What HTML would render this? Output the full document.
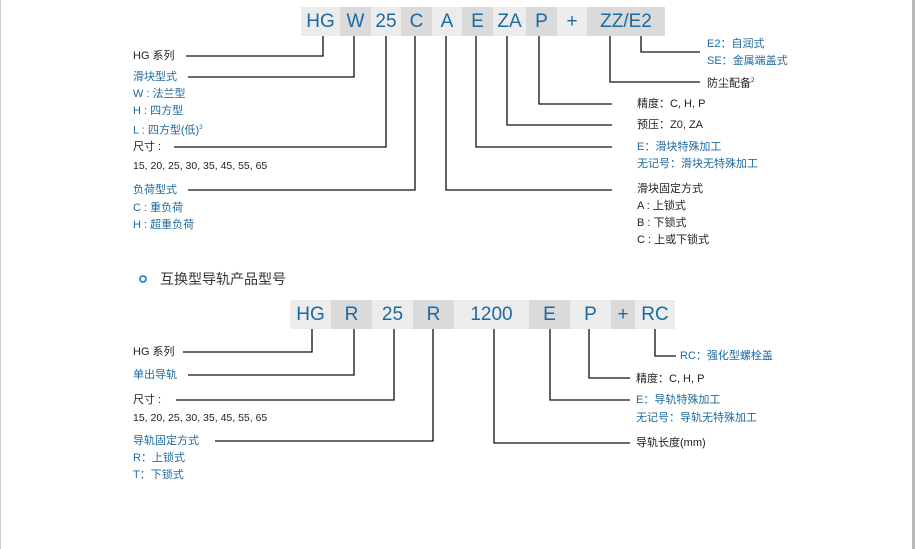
<!DOCTYPE html>
<html><head><meta charset="utf-8"><style>
body{margin:0;width:915px;height:549px;background:#fff;position:relative;overflow:hidden;font-family:"Liberation Sans","Noto Sans CJK SC",sans-serif}
.t{position:absolute;font-size:11px;line-height:13px;white-space:nowrap;color:#222}
.b{color:#1e6a9e}
.bx{position:absolute;height:29px;line-height:29px;text-align:center;color:#1a6aa0;font-size:19px}
.l{background:#ececec}.d{background:#dadada}
svg{position:absolute;left:0;top:0}
</style></head><body>
<div style="position:absolute;left:0;top:0;width:1px;height:549px;background:#ccc"></div>
<div style="position:absolute;left:912px;top:0;width:3px;height:549px;background:#b8b8b8"></div>

<div class="bx l" style="left:301px;top:7px;width:39px">HG</div>
<div class="bx d" style="left:340px;top:7px;width:31px">W</div>
<div class="bx l" style="left:371px;top:7px;width:30px">25</div>
<div class="bx d" style="left:401px;top:7px;width:31px">C</div>
<div class="bx l" style="left:432px;top:7px;width:30px">A</div>
<div class="bx d" style="left:462px;top:7px;width:31px">E</div>
<div class="bx l" style="left:493px;top:7px;width:33px">ZA</div>
<div class="bx d" style="left:526px;top:7px;width:31px">P</div>
<div class="bx l" style="left:557px;top:7px;width:30px">+</div>
<div class="bx d" style="left:587px;top:7px;width:78px">ZZ/E2</div>

<div class="bx l" style="left:290px;top:300px;width:41px">HG</div>
<div class="bx d" style="left:331px;top:300px;width:41px">R</div>
<div class="bx l" style="left:372px;top:300px;width:41px">25</div>
<div class="bx d" style="left:413px;top:300px;width:41px">R</div>
<div class="bx l" style="left:454px;top:300px;width:75px">1200</div>
<div class="bx d" style="left:529px;top:300px;width:41px">E</div>
<div class="bx l" style="left:570px;top:300px;width:41px">P</div>
<div class="bx d" style="left:611px;top:300px;width:24px">+</div>
<div class="bx l" style="left:635px;top:300px;width:40px">RC</div>

<svg width="915" height="549"><g stroke="#111" stroke-width="1.3" fill="none">
<polyline points="323,36 323,56 186,56"/>
<polyline points="354,36 354,77 188,77"/>
<polyline points="386,36 386,147 174,147"/>
<polyline points="415,36 415,190 188,190"/>
<polyline points="446,36 446,190 612,190"/>
<polyline points="476,36 476,147 612,147"/>
<polyline points="507,36 507,125 612,125"/>
<polyline points="539,36 539,104 612,104"/>
<polyline points="610,36 610,82 700,82"/>
<polyline points="641,36 641,52 700,52"/>
<polyline points="312,329 312,352 183,352"/>
<polyline points="354,329 354,375 188,375"/>
<polyline points="394,329 394,400 176,400"/>
<polyline points="433,329 433,441 215,441"/>
<polyline points="494,329 494,443 630,443"/>
<polyline points="550,329 550,400 630,400"/>
<polyline points="589,329 589,378 630,378"/>
<polyline points="655,329 655,356 676,356"/>
</g>
<circle cx="143" cy="279" r="3" stroke="#1a8ad0" stroke-width="1.8" fill="none"/></svg>

<div class="t" style="left:133px;top:50px">HG 系列</div>
<div class="t b" style="left:133px;top:71px">滑块型式</div>
<div class="t b" style="left:133px;top:88px">W : 法兰型</div>
<div class="t b" style="left:133px;top:105px">H : 四方型</div>
<div class="t b" style="left:133px;top:122px">L : 四方型(低)<sup style="font-size:6px">3</sup></div>
<div class="t" style="left:133px;top:141px">尺寸 :</div>
<div class="t" style="left:133px;top:160px;font-size:10.5px">15, 20, 25, 30, 35, 45, 55, 65</div>
<div class="t b" style="left:133px;top:184px">负荷型式</div>
<div class="t b" style="left:133px;top:202px">C : 重负荷</div>
<div class="t b" style="left:133px;top:219px">H : 超重负荷</div>

<div class="t b" style="left:707px;top:38px">E2：自润式</div>
<div class="t b" style="left:707px;top:55px">SE：金属端盖式</div>
<div class="t" style="left:707px;top:75px">防尘配备<sup style="font-size:6px">2</sup></div>
<div class="t" style="left:637px;top:98px">精度：C, H, P</div>
<div class="t" style="left:637px;top:119px">预压：Z0, ZA</div>
<div class="t b" style="left:637px;top:141px">E：滑块特殊加工</div>
<div class="t b" style="left:637px;top:158px">无记号：滑块无特殊加工</div>
<div class="t" style="left:637px;top:183px">滑块固定方式</div>
<div class="t" style="left:637px;top:200px">A : 上锁式</div>
<div class="t" style="left:637px;top:217px">B : 下锁式</div>
<div class="t" style="left:637px;top:234px">C : 上或下锁式</div>

<div class="t" style="left:160px;top:271px;font-size:14px;line-height:16px;color:#333">互换型导轨产品型号</div>

<div class="t" style="left:133px;top:346px">HG 系列</div>
<div class="t b" style="left:133px;top:369px">单出导轨</div>
<div class="t" style="left:133px;top:394px">尺寸 :</div>
<div class="t" style="left:133px;top:412px;font-size:10.5px">15, 20, 25, 30, 35, 45, 55, 65</div>
<div class="t b" style="left:133px;top:435px">导轨固定方式</div>
<div class="t b" style="left:133px;top:452px">R：上锁式</div>
<div class="t b" style="left:133px;top:469px">T：下锁式</div>

<div class="t b" style="left:680px;top:350px">RC：强化型螺栓盖</div>
<div class="t" style="left:636px;top:373px">精度：C, H, P</div>
<div class="t b" style="left:636px;top:394px">E：导轨特殊加工</div>
<div class="t b" style="left:636px;top:412px">无记号：导轨无特殊加工</div>
<div class="t" style="left:636px;top:437px">导轨长度(mm)</div>
</body></html>
